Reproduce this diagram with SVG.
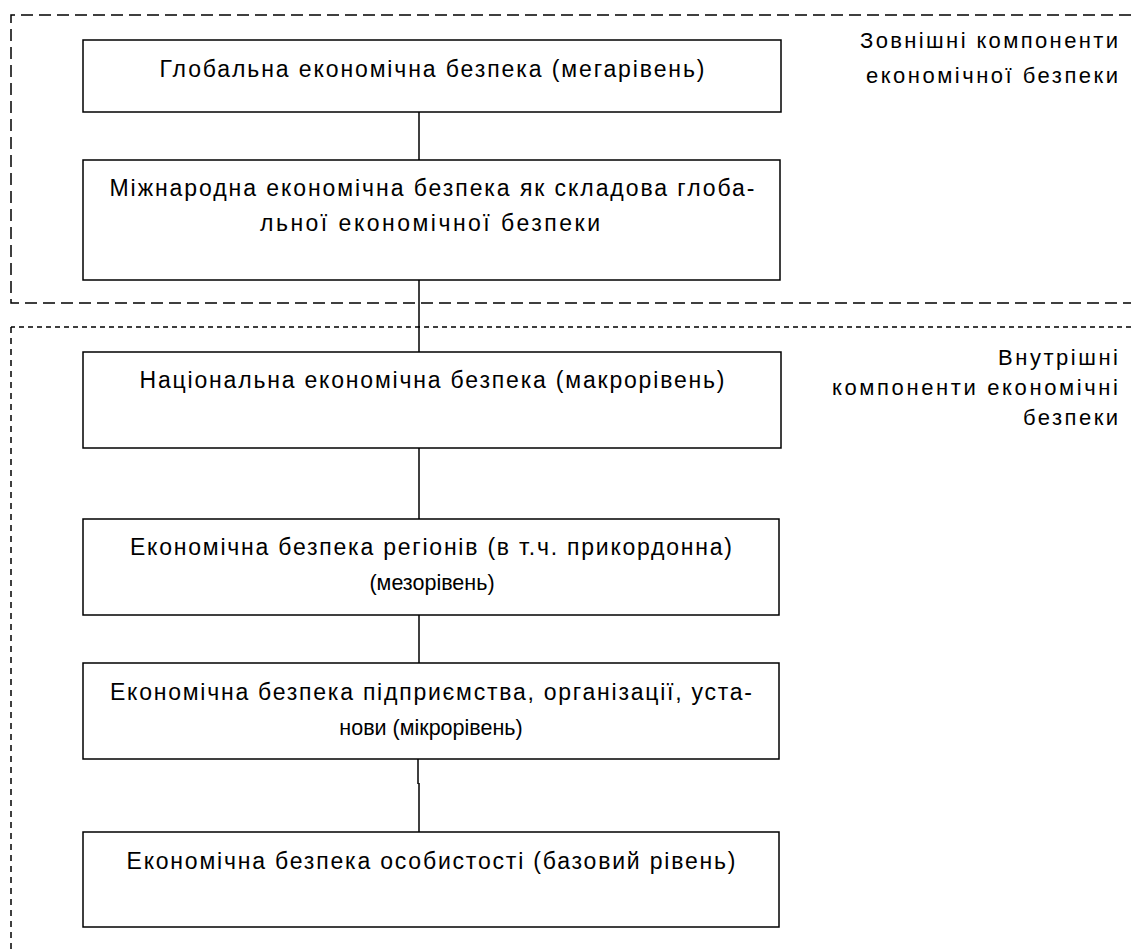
<svg xmlns="http://www.w3.org/2000/svg" width="1131" height="950" viewBox="0 0 1131 950">
<style>
.box{fill:#fff;stroke:#000;stroke-width:1.5}
.t{font-family:"Liberation Sans",Arial,sans-serif;font-size:23px;fill:#000;text-anchor:middle}
.s{font-family:"Liberation Sans",Arial,sans-serif;font-size:21.5px;fill:#000;text-anchor:middle}
.lbl{font-family:"Liberation Sans",Arial,sans-serif;font-size:22px;fill:#000;text-anchor:end}
.long{fill:none;stroke:#000;stroke-width:1.5;stroke-dasharray:12 6}
.short{fill:none;stroke:#000;stroke-width:1.5;stroke-dasharray:5 4}
.vshort{fill:none;stroke:#000;stroke-width:1.5;stroke-dasharray:6 5}
.c{stroke:#000;stroke-width:1.5;fill:none}
</style>
<rect width="1131" height="950" fill="#fff"/>
<g id="regions">
<path class="long" d="M1131 15 H11 V303 H1131"/>
<path class="short" d="M1131 327 H11"/>
<path class="vshort" d="M11 327 V950"/>
</g>
<g id="connectors">
<line class="c" x1="419" y1="112" x2="419" y2="160"/>
<line class="c" x1="419" y1="280" x2="419" y2="352"/>
<line class="c" x1="419" y1="448" x2="419" y2="519"/>
<line class="c" x1="419" y1="615" x2="419" y2="663"/>
<line class="c" x1="418" y1="759" x2="418" y2="784"/>
<line class="c" x1="419" y1="783" x2="419" y2="832"/>
</g>
<g id="n1"><rect class="box" x="83" y="40" width="698" height="72"/>
<text class="t" x="432" y="77" textLength="545" lengthAdjust="spacing">Глобальна економічна безпека (мегарівень)</text></g>
<g id="n2"><rect class="box" x="83" y="160" width="697" height="120"/>
<text class="t" x="432" y="196" textLength="645" lengthAdjust="spacing">Міжнародна економічна безпека як складова глоба-</text>
<text class="t" x="430" y="231" textLength="340" lengthAdjust="spacing">льної економічної безпеки</text></g>
<g id="n3"><rect class="box" x="83" y="352" width="698" height="96"/>
<text class="t" x="432" y="388" textLength="585" lengthAdjust="spacing">Національна економічна безпека (макрорівень)</text></g>
<g id="n4"><rect class="box" x="83" y="519" width="696" height="96"/>
<text class="t" x="431" y="555" textLength="602" lengthAdjust="spacing">Економічна безпека регіонів (в т.ч. прикордонна)</text>
<text class="s" x="432" y="590">(мезорівень)</text></g>
<g id="n5"><rect class="box" x="83" y="663" width="696" height="96"/>
<text class="t" x="431" y="700" textLength="642" lengthAdjust="spacing">Економічна безпека підприємства, організації, уста-</text>
<text class="s" x="431" y="735">нови (мікрорівень)</text></g>
<g id="n6"><rect class="box" x="83" y="832" width="696" height="95"/>
<text class="t" x="431" y="869" textLength="609" lengthAdjust="spacing">Економічна безпека особистості (базовий рівень)</text></g>
<g id="label-external">
<text class="lbl" x="1118" y="48" textLength="258" lengthAdjust="spacing">Зовнішні компоненти</text>
<text class="lbl" x="1118" y="83" textLength="252" lengthAdjust="spacing">економічної безпеки</text></g>
<g id="label-internal">
<text class="lbl" x="1118" y="365" textLength="120" lengthAdjust="spacing">Внутрішні</text>
<text class="lbl" x="1118" y="395" textLength="286" lengthAdjust="spacing">компоненти економічні</text>
<text class="lbl" x="1118" y="425" textLength="95" lengthAdjust="spacing">безпеки</text></g>
</svg>
